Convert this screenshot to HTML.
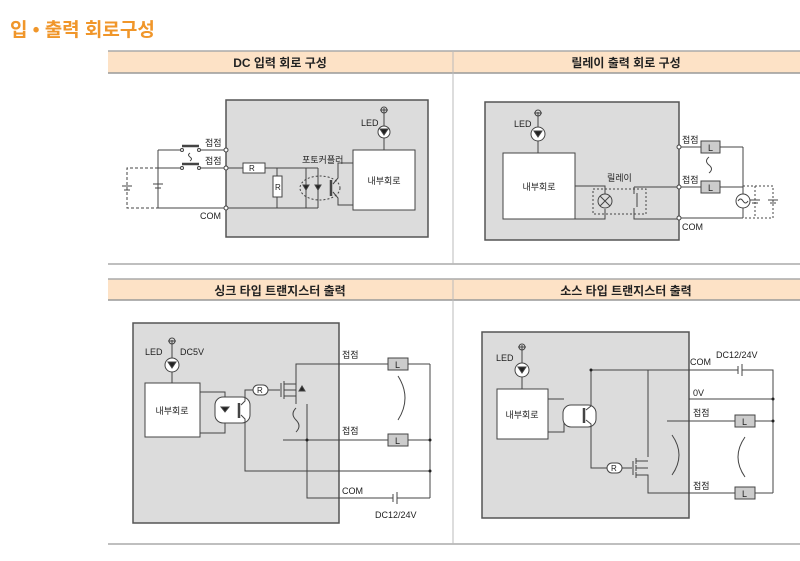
<!DOCTYPE html>
<html><head><meta charset="utf-8"><style>
body{margin:0;background:#fff;}
svg{display:block;font-family:"Liberation Sans","Noto Sans CJK KR",sans-serif;}
</style></head><body>
<svg width="800" height="561" viewBox="0 0 800 561" xmlns="http://www.w3.org/2000/svg">
<text x="10" y="36" font-size="19" font-weight="bold" fill="#f0962a">입 • 출력 회로구성</text>
<!-- headers -->
<rect x="108" y="51" width="692" height="22" fill="#fde2c6"/>
<line x1="108" y1="51" x2="800" y2="51" stroke="#aaa" stroke-width="1.5"/>
<line x1="108" y1="73" x2="800" y2="73" stroke="#999" stroke-width="1.5"/>
<rect x="108" y="279" width="692" height="21" fill="#fde2c6"/>
<line x1="108" y1="279" x2="800" y2="279" stroke="#aaa" stroke-width="1.5"/>
<line x1="108" y1="300" x2="800" y2="300" stroke="#999" stroke-width="1.5"/>
<line x1="108" y1="264" x2="800" y2="264" stroke="#aaa" stroke-width="1.5"/>
<line x1="108" y1="544" x2="800" y2="544" stroke="#aaa" stroke-width="1.5"/>
<line x1="453" y1="51" x2="453" y2="264" stroke="#bbb"/>
<line x1="453" y1="279" x2="453" y2="544" stroke="#bbb"/>
<g font-size="12" font-weight="bold" fill="#222" text-anchor="middle">
<text x="280" y="67">DC 입력 회로 구성</text>
<text x="626" y="67">릴레이 출력 회로 구성</text>
<text x="280" y="295">싱크 타입 트랜지스터 출력</text>
<text x="626" y="295">소스 타입 트랜지스터 출력</text>
</g>
<g stroke="#444" stroke-width="1" fill="none">
<!-- gray boxes -->
<rect x="226" y="100" width="202" height="137" fill="#dcdcdc" stroke="#555" stroke-width="1.5"/>
<rect x="485" y="102" width="194" height="138" fill="#dcdcdc" stroke="#555" stroke-width="1.5"/>
<rect x="133" y="323" width="206" height="200" fill="#dcdcdc" stroke="#555" stroke-width="1.5"/>
<rect x="482" y="332" width="207" height="186" fill="#dcdcdc" stroke="#555" stroke-width="1.5"/>

<!-- Panel 1 -->
<rect x="353" y="150" width="62" height="60" fill="#fff"/>
<line x1="384" y1="108" x2="384" y2="150"/>
<circle cx="384" cy="110" r="3"/><line x1="380" y1="110" x2="388" y2="110"/>
<circle cx="384" cy="132" r="6" fill="#fff"/><path d="M380 129h8l-4 6z" fill="#222"/>
<line x1="158" y1="150" x2="182" y2="150"/><line x1="199" y1="150" x2="226" y2="150"/>
<line x1="182" y1="146" x2="199" y2="146" stroke-width="2.5"/>
<line x1="158" y1="168" x2="182" y2="168"/><line x1="199" y1="168" x2="243" y2="168"/>
<line x1="182" y1="164" x2="199" y2="164" stroke-width="2.5"/>
<path d="M190 153q-3 2 0 4q3 2 0 4"/>
<line x1="158" y1="150" x2="158" y2="208"/>
<line x1="158" y1="208" x2="318" y2="208"/>
<line x1="153" y1="184" x2="163" y2="184"/><line x1="155" y1="188" x2="161" y2="188"/>
<path d="M158 168H127V208H158" stroke-dasharray="3,2"/>
<line x1="122" y1="186" x2="132" y2="186"/><line x1="124" y1="190" x2="130" y2="190"/>
<rect x="243" y="163" width="22" height="10" fill="#fff"/>
<line x1="265" y1="168" x2="318" y2="168"/>
<line x1="277" y1="168" x2="277" y2="176"/><rect x="273" y="176" width="9" height="21" fill="#fff"/><line x1="277" y1="197" x2="277" y2="208"/>
<line x1="306" y1="168" x2="306" y2="208"/><line x1="318" y1="168" x2="318" y2="208"/>
<ellipse cx="320" cy="188" rx="20" ry="12" stroke-dasharray="2,2"/>
<path d="M303 185h6l-3 5z M315 185h6l-3 5z" fill="#222"/>
<line x1="331" y1="180" x2="331" y2="196" stroke-width="2.5"/>
<path d="M333 184l5-6v-15h15 M333 192l5 6v7h15"/>
<!-- terminals -->
<g fill="#fff"><circle cx="226" cy="150" r="2"/><circle cx="226" cy="168" r="2"/><circle cx="226" cy="208" r="2"/>
<circle cx="182" cy="150" r="1.5"/><circle cx="199" cy="150" r="1.5"/><circle cx="182" cy="168" r="1.5"/><circle cx="199" cy="168" r="1.5"/></g>

<!-- Panel 2 -->
<rect x="503" y="153" width="72" height="66" fill="#fff"/>
<line x1="538" y1="112" x2="538" y2="153"/>
<circle cx="538" cy="113" r="3"/><line x1="534" y1="113" x2="542" y2="113"/>
<circle cx="538" cy="134" r="7" fill="#fff"/><path d="M534 131h8l-4 6z" fill="#222"/>
<path d="M575 186h30v8 M575 219h30v-10"/>
<circle cx="605" cy="201" r="7"/><path d="M600 196l10 10M610 196l-10 10"/>
<rect x="593" y="189" width="53" height="25" stroke-dasharray="2,2"/>
<path d="M634 187v7 M634 208v11h45 M637 193v14" />
<path d="M634 187h45" />
<line x1="679" y1="147" x2="701" y2="147"/><rect x="701" y="141" width="19" height="12" fill="#ccc"/><line x1="720" y1="147" x2="743" y2="147"/>
<line x1="679" y1="187" x2="701" y2="187"/><rect x="701" y="181" width="19" height="12" fill="#ccc"/><line x1="720" y1="187" x2="743" y2="187"/>
<line x1="743" y1="147" x2="743" y2="194"/><line x1="743" y1="208" x2="743" y2="218"/><line x1="679" y1="218" x2="743" y2="218"/>
<circle cx="743" cy="201" r="7"/><path d="M738 201q2.5-4 5 0t5 0"/>
<path d="M743 186h30v32h-30" stroke-dasharray="2,2"/><line x1="755" y1="186" x2="755" y2="218" stroke-dasharray="2,2"/>
<line x1="750" y1="200" x2="760" y2="200"/><line x1="752" y1="203" x2="758" y2="203"/>
<line x1="768" y1="200" x2="778" y2="200"/><line x1="770" y1="203" x2="776" y2="203"/>
<path d="M709 157q-5 4 0 8q5 4 0 8"/>
<g fill="#fff"><circle cx="679" cy="147" r="2"/><circle cx="679" cy="187" r="2"/><circle cx="679" cy="218" r="2"/></g>

<!-- Panel 3 -->
<rect x="145" y="383" width="55" height="54" fill="#fff"/>
<line x1="172" y1="340" x2="172" y2="383"/>
<circle cx="172" cy="341" r="3"/><line x1="168" y1="341" x2="176" y2="341"/>
<circle cx="172" cy="365" r="7" fill="#fff"/><path d="M168 362h8l-4 6z" fill="#222"/>
<path d="M200 392h25v5 M200 433h25v-10"/>
<rect x="215" y="397" width="35" height="26" rx="8" fill="#fff"/>
<path d="M221 407h8l-4 5z" fill="#222"/><line x1="239" y1="403" x2="239" y2="418" stroke-width="2.5"/>
<path d="M241 405l4-4v-11h8 M241 415l4 4v52h185"/>
<rect x="253" y="385" width="15" height="10" rx="5" fill="#fff"/>
<path d="M268 390h12 M281 383v14 M284 381v6 M284 387v6 M284 393v6 M284 384h12v-20h134 M284 390h12 M284 396h12v8"/>
<path d="M296 384v13" /><path d="M302 386l-3 5h6z" fill="#222"/>
<path d="M307 404v94h86 M397 498h33 M430 364v134"/>
<line x1="393" y1="494" x2="393" y2="502"/><line x1="397" y1="492" x2="397" y2="504"/>
<line x1="283" y1="440" x2="388" y2="440"/><line x1="408" y1="440" x2="430" y2="440"/>
<rect x="388" y="358" width="20" height="12" fill="#ccc"/>
<rect x="388" y="434" width="20" height="12" fill="#ccc"/>
<path d="M296 408q-6 6 0 12q6 6 0 12"/>
<path d="M398 376q14 22 0 44"/>

<!-- Panel 4 -->
<rect x="497" y="389" width="51" height="50" fill="#fff"/>
<line x1="522" y1="345" x2="522" y2="389"/>
<circle cx="522" cy="347" r="3"/><line x1="518" y1="347" x2="526" y2="347"/>
<circle cx="522" cy="370" r="7" fill="#fff"/><path d="M518 367h8l-4 6z" fill="#222"/>
<path d="M548 399h16 M548 432h16v-10"/>
<rect x="563" y="405" width="33" height="22" rx="8" fill="#fff"/>
<line x1="584" y1="408" x2="584" y2="423" stroke-width="2.5"/>
<path d="M586 410l5-4v-36h147 M742 370h31v123 M586 420l5 4v44h16 M689 399h84 M667 421h68 M755 421h18 M648 370v87 M648 478v15h87 M755 493h18"/>
<line x1="738" y1="366" x2="738" y2="374"/><line x1="742" y1="364" x2="742" y2="376"/>
<rect x="607" y="463" width="15" height="10" rx="5" fill="#fff"/>
<path d="M622 468h10 M633 461v14 M636 458v6 M636 465v6 M636 472v6 M636 461h12 M636 468h12 M636 475h12v3"/>
<rect x="735" y="415" width="20" height="12" fill="#ccc"/>
<rect x="735" y="487" width="20" height="12" fill="#ccc"/>
<path d="M672 435q14 20 0 40"/><path d="M745 437q-14 20 0 40"/>
</g>
<g fill="#222"><circle cx="430" cy="440" r="1.5"/><circle cx="430" cy="471" r="1.5"/><circle cx="591" cy="370" r="1.5"/><circle cx="773" cy="399" r="1.5"/><circle cx="773" cy="421" r="1.5"/><circle cx="307" cy="440" r="1.5"/></g>
<g font-size="9" fill="#222">
<text x="205" y="146">접점</text><text x="205" y="164">접점</text><text x="200" y="219">COM</text>
<text x="361" y="126">LED</text><text x="302" y="163">포토커플러</text>
<text x="384" y="184" text-anchor="middle">내부회로</text>
<text x="249" y="171" font-size="8">R</text><text x="275" y="190" font-size="8">R</text>
<text x="514" y="127">LED</text><text x="539" y="190" text-anchor="middle">내부회로</text>
<text x="607" y="181">릴레이</text>
<text x="682" y="143">접점</text><text x="682" y="183">접점</text><text x="682" y="230">COM</text>
<text x="708" y="151" font-size="9">L</text><text x="708" y="191" font-size="9">L</text>
<text x="145" y="355">LED</text><text x="180" y="355">DC5V</text>
<text x="172" y="414" text-anchor="middle">내부회로</text>
<text x="257" y="393" font-size="8">R</text>
<text x="342" y="358">접점</text><text x="342" y="434">접점</text><text x="342" y="494">COM</text>
<text x="375" y="518">DC12/24V</text>
<text x="395" y="368">L</text><text x="395" y="444">L</text>
<text x="496" y="361">LED</text><text x="522" y="418" text-anchor="middle">내부회로</text>
<text x="611" y="471" font-size="8">R</text>
<text x="690" y="365">COM</text><text x="716" y="358">DC12/24V</text>
<text x="693" y="396">0V</text><text x="693" y="416">접점</text><text x="693" y="489">접점</text>
<text x="742" y="425">L</text><text x="742" y="497">L</text>
</g>
</svg>
</body></html>
